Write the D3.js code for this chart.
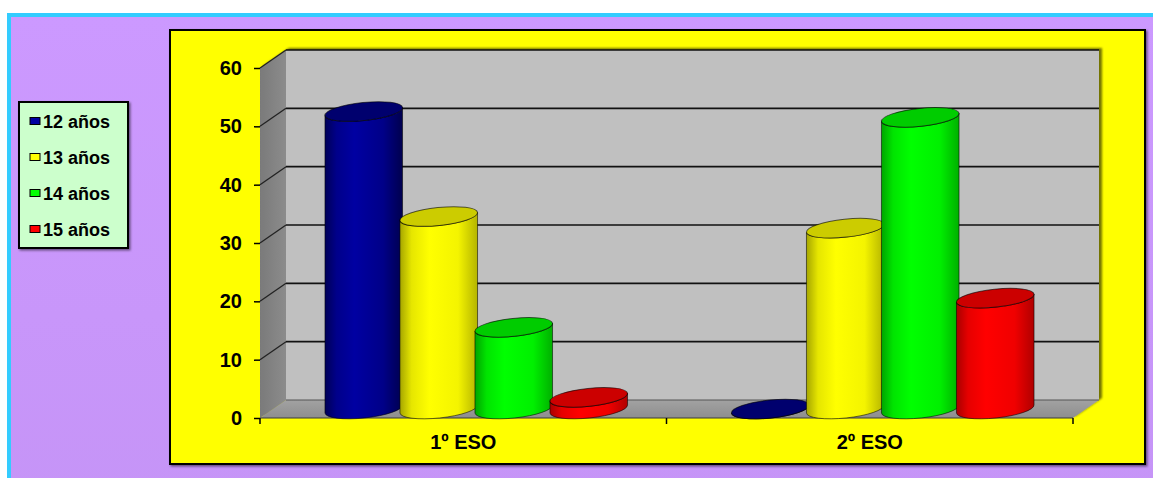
<!DOCTYPE html>
<html>
<head>
<meta charset="utf-8">
<script src="https://cdn.jsdelivr.net/npm/d3@7"></script>
<style>
  html, body { margin: 0; padding: 0; background: #ffffff; }
  svg { display: block; }
  text { font-family: "Liberation Sans", Arial, sans-serif; font-weight: bold; fill: #000; }
</style>
</head>
<body>
<svg id="chart" width="1153" height="478"></svg>
<script>
// Students per course, split by age (percent of each course)
const categories = ["1º ESO", "2º ESO"];
const seriesNames = ["12 años", "13 años", "14 años", "15 años"];
const age12 = [51, 0];
const age13 = [33, 31];
const age14 = [14, 50];
const age15 = [2, 19];
const yTicks = [0, 10, 20, 30, 40, 50, 60];

const seriesValues = [age12, age13, age14, age15];

// Cylinder colours: body gradient stops and top cap
const palette = [
  { stops: ["#000058", "#00008a", "#0000a2", "#000088", "#00004e"], cap: "#00006e" },
  { stops: ["#a6a600", "#e6e600", "#ffff00", "#f4f400", "#b4b400"], cap: "#cccc00" },
  { stops: ["#00a400", "#00e400", "#00ff00", "#00f000", "#00b000"], cap: "#00cc00" },
  { stops: ["#a80000", "#e60000", "#ff0000", "#f00000", "#b00000"], cap: "#cc0000" }
];

const svg = d3.select("#chart");
const defs = svg.append("defs");

// Page background: cyan frame and lilac fill
const bg = defs.append("linearGradient").attr("id", "bgGrad")
  .attr("x1", 0).attr("y1", 0).attr("x2", 0).attr("y2", 1);
bg.append("stop").attr("offset", 0).attr("stop-color", "#cc99ff");
bg.append("stop").attr("offset", 1).attr("stop-color", "#c090f0");

svg.append("rect").attr("x", 9).attr("y", 15).attr("width", 1400).attr("height", 900)
  .attr("fill", "url(#bgGrad)").attr("stroke", "#33ccff").attr("stroke-width", 4);

// Shadows
const sh = defs.append("filter").attr("id", "wallShadow")
  .attr("x", "-5%").attr("y", "-10%").attr("width", "110%").attr("height", "120%");
sh.append("feDropShadow").attr("dx", 3).attr("dy", -2).attr("stdDeviation", 1.2)
  .attr("flood-color", "#000").attr("flood-opacity", 0.55);

const sh2 = defs.append("filter").attr("id", "boxShadow")
  .attr("x", "-5%").attr("y", "-5%").attr("width", "110%").attr("height", "110%");
sh2.append("feDropShadow").attr("dx", 1.5).attr("dy", 1.5).attr("stdDeviation", 0.8)
  .attr("flood-color", "#000").attr("flood-opacity", 0.5);

// Plot area
svg.append("rect").attr("x", 170).attr("y", 30).attr("width", 975).attr("height", 434)
  .attr("fill", "#ffff00").attr("stroke", "#000").attr("stroke-width", 2)
  .attr("filter", "url(#boxShadow)");

// Scales (front plane) and depth offset
const depthX = 26, depthY = -18;
const x = d3.scaleBand().domain(categories).range([260, 1073]).paddingInner(0).paddingOuter(0);
const y = d3.scaleLinear().domain([0, 60]).range([418, 68]);
const inner = d3.scaleBand().domain(seriesNames).range([-150, 150]);

const x0 = x.range()[0], x1 = x.range()[1];
const yTop = y(60), yBase = y(0);

// Walls and floor
const walls = svg.append("g").attr("filter", "url(#wallShadow)");

const leftGrad = defs.append("linearGradient").attr("id", "leftWall")
  .attr("x1", 0).attr("y1", 0).attr("x2", 1).attr("y2", 0);
leftGrad.append("stop").attr("offset", 0).attr("stop-color", "#7a7a7a");
leftGrad.append("stop").attr("offset", 1).attr("stop-color", "#8c8c8c");

const floorGrad = defs.append("linearGradient").attr("id", "floorGrad")
  .attr("x1", 0).attr("y1", 0).attr("x2", 0).attr("y2", 1);
floorGrad.append("stop").attr("offset", 0).attr("stop-color", "#a2a2a2");
floorGrad.append("stop").attr("offset", 1).attr("stop-color", "#8e8e8e");

walls.append("rect")
  .attr("x", x0 + depthX).attr("y", yTop + depthY)
  .attr("width", x1 - x0).attr("height", yBase - yTop)
  .attr("fill", "#c0c0c0");

walls.append("polygon")
  .attr("points", [[x0, yBase], [x0, yTop], [x0 + depthX, yTop + depthY], [x0 + depthX, yBase + depthY]].join(" "))
  .attr("fill", "url(#leftWall)");

walls.append("polygon")
  .attr("points", [[x0, yBase], [x1, yBase], [x1 + depthX, yBase + depthY], [x0 + depthX, yBase + depthY]].join(" "))
  .attr("fill", "url(#floorGrad)");

// Gridlines across back wall and left wall
const grid = svg.append("g");
yTicks.forEach(v => {
  const yf = y(v), yb = y(v) + depthY;
  grid.append("line").attr("x1", x0 + depthX).attr("x2", x1 + depthX).attr("y1", yb).attr("y2", yb)
    .attr("stroke", v === 0 ? "#555" : "#111").attr("stroke-width", v === 0 ? 1 : 1.6);
  if (v > 0) {
    grid.append("line").attr("x1", x0).attr("x2", x0 + depthX).attr("y1", yf).attr("y2", yb)
      .attr("stroke", "#222").attr("stroke-width", 1.3);
  }
});

// Floor front edge and right slant
svg.append("line").attr("x1", x0).attr("x2", x1).attr("y1", yBase).attr("y2", yBase)
  .attr("stroke", "#3a3a3a").attr("stroke-width", 1);

// Y axis (ticks and labels, no domain line)
const yAxis = svg.append("g").attr("transform", `translate(${x0},0)`)
  .call(d3.axisLeft(y).tickValues(yTicks).tickSize(6).tickPadding(12));
yAxis.select(".domain").remove();
yAxis.selectAll(".tick line").attr("stroke", "#000").attr("stroke-width", 1.5);
yAxis.selectAll("text").style("font-size", "20px").style("font-family", '"Liberation Sans", Arial, sans-serif')
  .style("font-weight", "bold").attr("fill", "#000");

// X axis: labels at band centres, ticks at band boundaries
const xAxis = svg.append("g").attr("transform", `translate(0,${yBase})`)
  .call(d3.axisBottom(x).tickSize(0).tickPadding(17));
xAxis.select(".domain").remove();
xAxis.selectAll("text").style("font-size", "20px").style("font-family", '"Liberation Sans", Arial, sans-serif')
  .style("font-weight", "bold").attr("fill", "#000");
const bounds = categories.map(c => x(c)).concat([x1]);
svg.append("g").selectAll("line").data(bounds).join("line")
  .attr("x1", d => d).attr("x2", d => d).attr("y1", yBase).attr("y2", yBase + 6)
  .attr("stroke", "#000").attr("stroke-width", 1.5);

// Cylinder gradients
palette.forEach((p, i) => {
  const g = defs.append("linearGradient").attr("id", "cyl" + i)
    .attr("x1", 0).attr("y1", 0).attr("x2", 1).attr("y2", 0);
  const offs = [0, 0.15, 0.38, 0.75, 1];
  p.stops.forEach((c, k) => g.append("stop").attr("offset", offs[k]).attr("stop-color", c));
});

// Cylinders
const rx = 39, ry = 9, tilt = -6;
const rad = tilt * Math.PI / 180;
const ex = rx * Math.cos(rad), ey = rx * Math.sin(rad);

const bars = [];
categories.forEach((c, ci) => {
  seriesNames.forEach((s, si) => {
    bars.push({ cat: c, series: s, si, value: seriesValues[si][ci] });
  });
});

const cylG = svg.append("g");
bars.forEach(d => {
  const cx = x(d.cat) + x.bandwidth() / 2 + inner(d.series) + inner.bandwidth() / 2 + depthX / 2;
  const by = y(0) + depthY / 2;
  const ty = y(d.value) + depthY / 2;
  const g = cylG.append("g");
  const body = `M${cx - ex},${ty - ey} L${cx - ex},${by - ey} ` +
    `A${rx},${ry} ${tilt} 0 0 ${cx + ex},${by + ey} ` +
    `L${cx + ex},${ty + ey} A${rx},${ry} ${tilt} 0 1 ${cx - ex},${ty - ey} Z`;
  g.append("path").attr("d", body)
    .attr("fill", `url(#cyl${d.si})`)
    .attr("stroke", "rgba(0,0,0,0.55)").attr("stroke-width", 1);
  g.append("ellipse").attr("cx", cx).attr("cy", ty).attr("rx", rx).attr("ry", ry)
    .attr("transform", `rotate(${tilt},${cx},${ty})`)
    .attr("fill", palette[d.si].cap)
    .attr("stroke", "rgba(0,0,0,0.6)").attr("stroke-width", 1);
});

// Legend
const legend = svg.append("g");
legend.append("rect").attr("x", 19).attr("y", 102).attr("width", 109).attr("height", 146)
  .attr("fill", "#ccffcc").attr("stroke", "#000").attr("stroke-width", 2)
  .attr("filter", "url(#boxShadow)");
seriesNames.forEach((s, i) => {
  const cy = 121 + i * 36;
  legend.append("rect").attr("x", 30).attr("y", cy - 3.5).attr("width", 10).attr("height", 7)
    .attr("fill", palette[i].stops[2]).attr("stroke", "#000").attr("stroke-width", 1);
  legend.append("text").attr("x", 43).attr("y", cy + 6.5)
    .style("font-size", "18px").text(s);
});
</script>
</body>
</html>
